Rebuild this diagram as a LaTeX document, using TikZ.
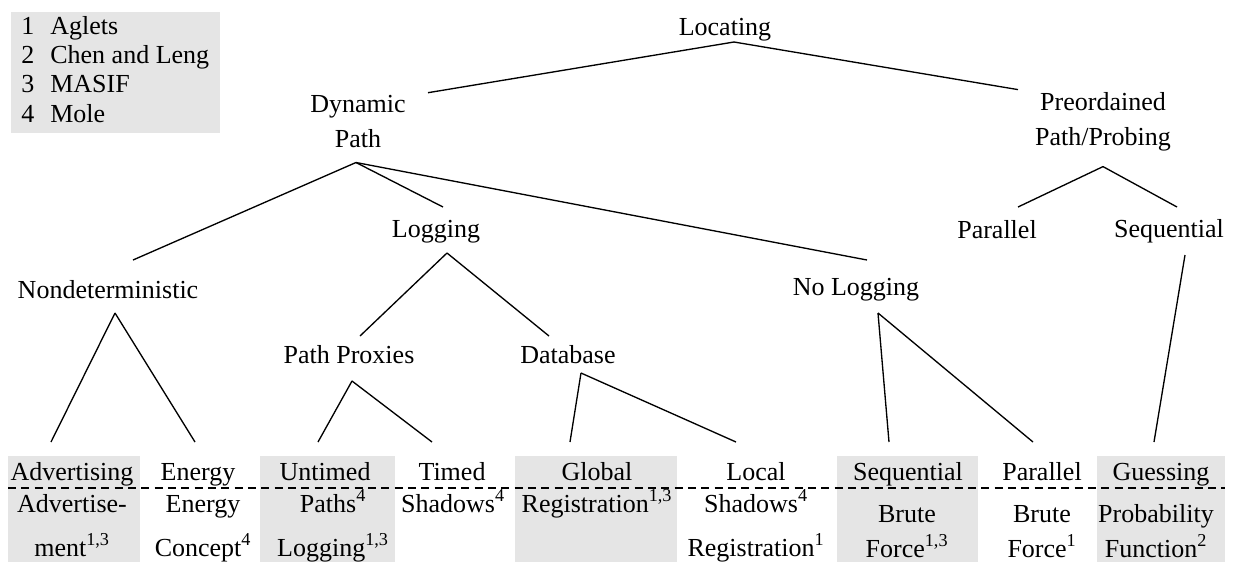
\documentclass[tikz,border=0pt]{standalone}
\usepackage{fontspec}
\setmainfont{Liberation Serif}
\definecolor{cellgray}{RGB}{229,229,229}

\tikzset{every picture/.style={line width=1pt}}
\tikzset{
  lbl/.style={inner sep=0pt, anchor=base, font=\fontsize{19.5}{26.25}\selectfont},
  mlbl/.style={inner sep=0pt, align=center, font=\fontsize{19.5}{26.25}\selectfont},
}

\begin{document}
\begin{tikzpicture}[x=0.75pt,y=0.75pt,yscale=-1,xscale=1]
\useasboundingbox (0,0) rectangle (1233,562);

%Shaded cells
\fill[cellgray] (8,456) rectangle (140,562);
\fill[cellgray] (260,456) rectangle (395,562);
\fill[cellgray] (515,456) rectangle (677,562);
\fill[cellgray] (837,456) rectangle (978,562);
\fill[cellgray] (1097,456) rectangle (1225,562);
%Dashed rule
\draw[dash pattern=on 6pt off 4pt] (8,488) -- (1225,488);

% Legend
\node[anchor=north west, fill=cellgray, inner xsep=8pt, inner ysep=1.5pt, font=\fontsize{19.5}{22}\selectfont] (legend) at (10,11)
  {\begin{tabular}{@{}l@{\hspace{12pt}}l@{}}1 & Aglets\\2 & Chen and Leng\\3 & MASIF\\4 & Mole\end{tabular}};

% Tree nodes
\node[lbl] (loc) at (725,35) {Locating};
\node[mlbl] (dyn) at (358,121.6) {Dynamic\\Path};
\node[mlbl] (pre) at (1103,121.6) {Preordained\\Path/Probing};
\node[lbl] (logg) at (436,237) {Logging};
\node[lbl] (nondet) at (108,298) {Nondeterministic};
\node[lbl] (nolog) at (856,295) {No Logging};
\node[lbl] (parU) at (997,238) {Parallel};
\node[lbl] (seqU) at (1169,237) {Sequential};
\node[lbl] (pprox) at (349,363) {Path Proxies};
\node[lbl] (db) at (568,363) {Database};

% Leaves
\node[lbl] (adv) at (72,480) {Advertising};
\node[lbl] (ener) at (198,480) {Energy};
\node[lbl] (untm) at (325,480) {Untimed};
\node[lbl] (timd) at (452,480) {Timed};
\node[lbl] (glob) at (597,480) {Global};
\node[lbl] (locl) at (756,480) {Local};
\node[lbl] (seqB) at (908,480) {Sequential};
\node[lbl] (parB) at (1042,480) {Parallel};
\node[lbl] (gues) at (1161,480) {Guessing};

% Systems
\node[mlbl, anchor=base] (advD) at (72,556) {Advertise-\\[6.75pt]ment\textsuperscript{1,3}};
\node[mlbl, anchor=base] (enerD) at (203,556) {Energy\\[6.75pt]Concept\textsuperscript{4}};
\node[mlbl, anchor=base] (untmD) at (333,556) {Paths\textsuperscript{4}\\[6.75pt]Logging\textsuperscript{1,3}};
\node[lbl] (timdD) at (453,512) {Shadows\textsuperscript{4}};
\node[lbl] (globD) at (597,512) {Registration\textsuperscript{1,3}};
\node[mlbl, anchor=base] (loclD) at (756,556) {Shadows\textsuperscript{4}\\[6.75pt]Registration\textsuperscript{1}};
\node[mlbl, anchor=base] (seqBD) at (907,557) {Brute\\Force\textsuperscript{1,3}};
\node[mlbl, anchor=base] (parBD) at (1042,557) {Brute\\Force\textsuperscript{1}};
\node[mlbl, anchor=base] (guesD) at (1156,557) {Probability\\Function\textsuperscript{2}};

%Straight Lines
\draw ([shift={(9,7)}]loc.base) -- ([shift={(70,-2)}]dyn.north);
\draw ([shift={(9,7)}]loc.base) -- ([shift={(-85,-2)}]pre.north);
\draw ([shift={(-2,14)}]dyn.south) -- ([shift={(25,-38)}]nondet.base);
\draw ([shift={(-2,14)}]dyn.south) -- ([shift={(7,-30)}]logg.base);
\draw ([shift={(-2,14)}]dyn.south) -- ([shift={(11,-35)}]nolog.base);
\draw ([shift={(11,16)}]logg.base) -- ([shift={(11,-27)}]pprox.base);
\draw ([shift={(11,16)}]logg.base) -- ([shift={(-19,-27)}]db.base);
\draw ([shift={(7,15)}]nondet.base) -- ([shift={(-21,-38)}]adv.base);
\draw ([shift={(7,15)}]nondet.base) -- ([shift={(-3,-38)}]ener.base);
\draw ([shift={(3,18)}]pprox.base) -- ([shift={(-7,-38)}]untm.base);
\draw ([shift={(3,18)}]pprox.base) -- ([shift={(-20,-38)}]timd.base);
\draw ([shift={(13,10)}]db.base) -- ([shift={(-27,-38)}]glob.base);
\draw ([shift={(13,10)}]db.base) -- ([shift={(-20,-38)}]locl.base);
\draw ([shift={(22,18)}]nolog.base) -- ([shift={(-19,-38)}]seqB.base);
\draw ([shift={(22,18)}]nolog.base) -- ([shift={(-9,-38)}]parB.base);
\draw ([shift={(0,15)}]pre.south) -- ([shift={(21,-31)}]parU.base);
\draw ([shift={(0,15)}]pre.south) -- ([shift={(8,-30)}]seqU.base);
\draw ([shift={(16,18)}]seqU.base) -- ([shift={(-7,-38)}]gues.base);

\end{tikzpicture}
\end{document}
